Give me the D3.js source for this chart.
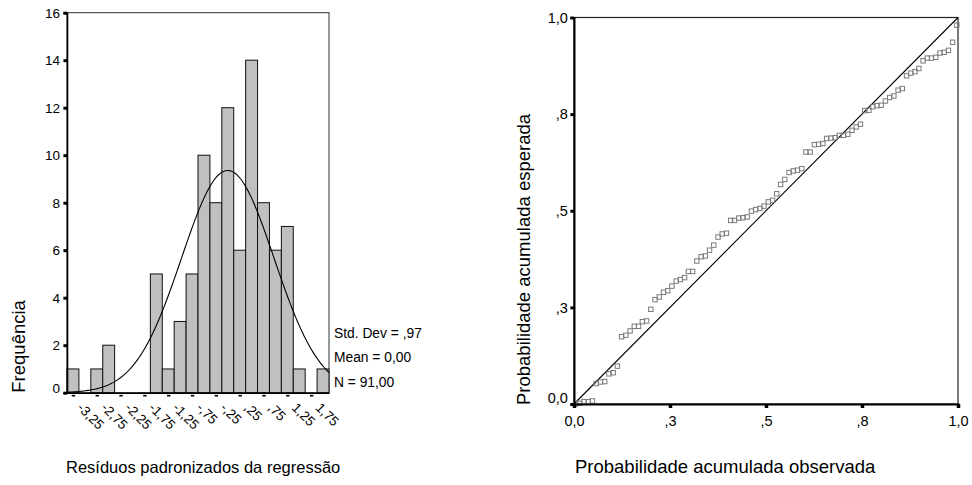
<!DOCTYPE html>
<html>
<head>
<meta charset="utf-8">
<script src="https://cdn.jsdelivr.net/npm/d3@7"></script>
<style>
  html, body { margin: 0; padding: 0; background: #fff; }
  svg { display: block; font-family: "Liberation Sans", Arial, sans-serif; }
</style>
</head>
<body>
<svg id="chart" width="972" height="485"></svg>
<script>
// ---------- Histogram data ----------
const binCenters = [-3.25, -3.0, -2.75, -2.5, -2.25, -2.0, -1.75, -1.5, -1.25, -1.0, -0.75,
                    -0.5, -0.25, 0.0, 0.25, 0.5, 0.75, 1.0, 1.25, 1.5, 1.75, 2.0];
const binCounts  = [1, 0, 1, 2, 0, 0, 0, 5, 1, 3, 5, 10, 8, 12, 6, 14, 8, 6, 7, 1, 0, 1];
const binWidth = 0.25;
const histXTickValues = [-3.25, -2.75, -2.25, -1.75, -1.25, -0.75, -0.25, 0.25, 0.75, 1.25, 1.75];
const histXTickLabels = ["-3,25", "-2,75", "-2,25", "-1,75", "-1,25", "-,75", "-,25", ",25", ",75", "1,25", "1,75"];
const histYTickValues = [0, 2, 4, 6, 8, 10, 12, 14, 16];
const statMean = 0.0, statSD = 0.97, statN = 91;
const statLines = ["Std. Dev = ,97", "Mean = 0,00", "N = 91,00"];
const histXTitle = "Resíduos padronizados da regressão";
const histYTitle = "Frequência";

// ---------- P-P plot data ----------
const ppObserved = [
  0.004, 0.015, 0.026, 0.037, 0.048, 0.058, 0.069, 0.080, 0.091, 0.102,
  0.113, 0.124, 0.135, 0.146, 0.157, 0.168, 0.178, 0.189, 0.200, 0.211,
  0.222, 0.233, 0.244, 0.255, 0.266, 0.277, 0.288, 0.298, 0.309, 0.320,
  0.331, 0.342, 0.353, 0.364, 0.375, 0.386, 0.397, 0.408, 0.418, 0.429,
  0.440, 0.451, 0.462, 0.473, 0.484, 0.495, 0.506, 0.517, 0.528, 0.538,
  0.549, 0.560, 0.571, 0.582, 0.593, 0.604, 0.615, 0.626, 0.637, 0.648,
  0.658, 0.669, 0.680, 0.691, 0.702, 0.713, 0.724, 0.735, 0.746, 0.757,
  0.768, 0.778, 0.789, 0.800, 0.811, 0.822, 0.833, 0.844, 0.855, 0.866,
  0.877, 0.888, 0.898, 0.909, 0.920, 0.931, 0.942, 0.953, 0.964, 0.975,
  0.986, 0.997
];
const ppExpected = [
  0.000, 0.002, 0.006, 0.006, 0.008, 0.053, 0.057, 0.058, 0.078, 0.081,
  0.098, 0.174, 0.178, 0.189, 0.201, 0.201, 0.213, 0.215, 0.245, 0.270,
  0.277, 0.289, 0.293, 0.305, 0.318, 0.322, 0.327, 0.343, 0.343, 0.370,
  0.381, 0.383, 0.398, 0.411, 0.432, 0.440, 0.442, 0.475, 0.475, 0.481,
  0.482, 0.484, 0.499, 0.503, 0.506, 0.512, 0.523, 0.527, 0.544, 0.568,
  0.581, 0.599, 0.603, 0.605, 0.609, 0.652, 0.652, 0.671, 0.672, 0.674,
  0.687, 0.688, 0.689, 0.695, 0.695, 0.698, 0.708, 0.717, 0.724, 0.759,
  0.760, 0.769, 0.772, 0.773, 0.784, 0.793, 0.797, 0.812, 0.816, 0.849,
  0.856, 0.860, 0.868, 0.888, 0.895, 0.895, 0.897, 0.908, 0.910, 0.915,
  0.936, 0.980
];
const ppTickValues = [0, 0.25, 0.5, 0.75, 1.0];
const ppTickLabels = ["0,0", ",3", ",5", ",8", "1,0"];
const ppXTitle = "Probabilidade acumulada observada";
const ppYTitle = "Probabilidade acumulada esperada";

const svg = d3.select("#chart");

// =============== HISTOGRAM ===============
const hL = 67, hR = 329, hT = 12.7, hB = 392.7;
const hx = d3.scaleLinear()
  .domain([binCenters[0] - binWidth / 2, binCenters[binCenters.length - 1] + binWidth / 2])
  .range([hL, hR]);
const hy = d3.scaleLinear().domain([0, 16]).range([hB, hT]);

const hg = svg.append("g");

hg.append("rect").attr("x", hL).attr("y", hT).attr("width", hR - hL).attr("height", hB - hT)
  .attr("fill", "none").attr("stroke", "#333").attr("stroke-width", 1);

hg.selectAll("rect.bar").data(binCenters.map((c, i) => ({c, n: binCounts[i]})).filter(d => d.n > 0))
  .enter().append("rect").attr("class", "bar")
  .attr("x", d => hx(d.c - binWidth / 2))
  .attr("y", d => hy(d.n))
  .attr("width", d => hx(d.c + binWidth / 2) - hx(d.c - binWidth / 2))
  .attr("height", d => hy(0) - hy(d.n))
  .attr("fill", "#c0c0c0").attr("stroke", "#111").attr("stroke-width", 1);

// fitted normal curve from the displayed statistics
const curveXs = d3.range(0, 201).map(i => hx.domain()[0] + (hx.domain()[1] - hx.domain()[0]) * i / 200);
const normalCount = v => statN * binWidth / (statSD * Math.sqrt(2 * Math.PI)) *
  Math.exp(-0.5 * Math.pow((v - statMean) / statSD, 2));
hg.append("path")
  .attr("d", d3.line().x(v => hx(v)).y(v => hy(normalCount(v)))(curveXs))
  .attr("fill", "none").attr("stroke", "#000").attr("stroke-width", 1.1);

const hyAxis = hg.append("g").attr("transform", `translate(${hL},0)`)
  .call(d3.axisLeft(hy).tickValues(histYTickValues).tickSize(3.6).tickPadding(3.4));
hyAxis.select(".domain").attr("stroke", "#000").attr("stroke-width", 1.6);
hyAxis.selectAll(".tick line").attr("stroke", "#000").attr("stroke-width", 3);
hyAxis.selectAll(".tick text").attr("font-size", 13.5).attr("fill", "#000")
  .attr("font-family", "Liberation Sans, Arial, sans-serif")
  .attr("dy", d => d === 0 ? "-0.05em" : "0.32em");

const hxAxis = hg.append("g").attr("transform", `translate(0,${hB})`)
  .call(d3.axisBottom(hx).tickValues(histXTickValues).tickSize(0)
        .tickFormat((d, i) => histXTickLabels[i]));
hxAxis.select(".domain").attr("stroke", "#000").attr("stroke-width", 1.6);
hxAxis.selectAll(".tick").append("rect")
  .attr("x", -1.7).attr("y", 2.2).attr("width", 3.4).attr("height", 1.6).attr("fill", "#000");
hxAxis.selectAll(".tick text")
  .attr("font-size", 13.5).attr("fill", "#000")
  .attr("font-family", "Liberation Sans, Arial, sans-serif")
  .attr("text-anchor", "start")
  .attr("x", 0).attr("y", 0).attr("dy", "0.35em")
  .attr("transform", "translate(6.5,12.5) rotate(45)");

hg.selectAll("text.stat").data(statLines).enter().append("text").attr("class", "stat")
  .attr("x", 334).attr("y", (d, i) => [338.3, 361.7, 386.7][i])
  .attr("font-size", 13.8).attr("fill", "#000").text(d => d);

hg.append("text").attr("transform", `translate(25,${hB}) rotate(-90)`)
  .attr("text-anchor", "start").attr("font-size", 18.5).attr("fill", "#000").text(histYTitle);
hg.append("text").attr("x", 66).attr("y", 473)
  .attr("font-size", 16.5).attr("fill", "#000").text(histXTitle);

// =============== P-P PLOT ===============
const pL = 574, pR = 958, pT = 17.5, pB = 404;
const px = d3.scaleLinear().domain([0, 1]).range([pL, pR]);
const py = d3.scaleLinear().domain([0, 1]).range([pB, pT]);
const pg = svg.append("g");

pg.append("rect").attr("x", pL).attr("y", pT).attr("width", pR - pL).attr("height", pB - pT)
  .attr("fill", "none").attr("stroke", "#222").attr("stroke-width", 1.2);

pg.append("line").attr("x1", px(0)).attr("y1", py(0)).attr("x2", px(1)).attr("y2", py(1))
  .attr("stroke", "#000").attr("stroke-width", 1.1);

const mk = 4.4;
pg.selectAll("rect.pt").data(ppObserved.map((o, i) => ({o, e: ppExpected[i]})))
  .enter().append("rect").attr("class", "pt")
  .attr("x", d => px(d.o) - mk / 2).attr("y", d => py(d.e) - mk / 2)
  .attr("width", mk).attr("height", mk)
  .attr("fill", "none").attr("stroke", "#7a7a7a").attr("stroke-width", 1);

const pyAxis = pg.append("g").attr("transform", `translate(${pL},0)`)
  .call(d3.axisLeft(py).tickValues(ppTickValues).tickSize(3.6).tickPadding(2.6)
        .tickFormat((d, i) => ppTickLabels[i]));
pyAxis.select(".domain").attr("stroke", "#000").attr("stroke-width", 2);
pyAxis.selectAll(".tick line").attr("stroke", "#000").attr("stroke-width", 3);
pyAxis.selectAll(".tick text").attr("font-size", 14.5).attr("fill", "#000")
  .attr("font-family", "Liberation Sans, Arial, sans-serif")
  .attr("dy", d => d === 0 ? "-0.1em" : "0.32em");

const pxAxis = pg.append("g").attr("transform", `translate(0,${pB})`)
  .call(d3.axisBottom(px).tickValues(ppTickValues).tickSize(4).tickPadding(7.7)
        .tickFormat((d, i) => ppTickLabels[i]));
pxAxis.select(".domain").attr("stroke", "#000").attr("stroke-width", 2);
pxAxis.selectAll(".tick line").attr("stroke", "#000").attr("stroke-width", 3.5);
pxAxis.selectAll(".tick text").attr("font-size", 14.5).attr("fill", "#000")
  .attr("font-family", "Liberation Sans, Arial, sans-serif");

pg.append("text").attr("transform", `translate(530,405) rotate(-90)`)
  .attr("text-anchor", "start").attr("font-size", 18.5).attr("fill", "#000").text(ppYTitle);
pg.append("text").attr("x", 575).attr("y", 472.7)
  .attr("font-size", 18.5).attr("fill", "#000").text(ppXTitle);
</script>
</body>
</html>
